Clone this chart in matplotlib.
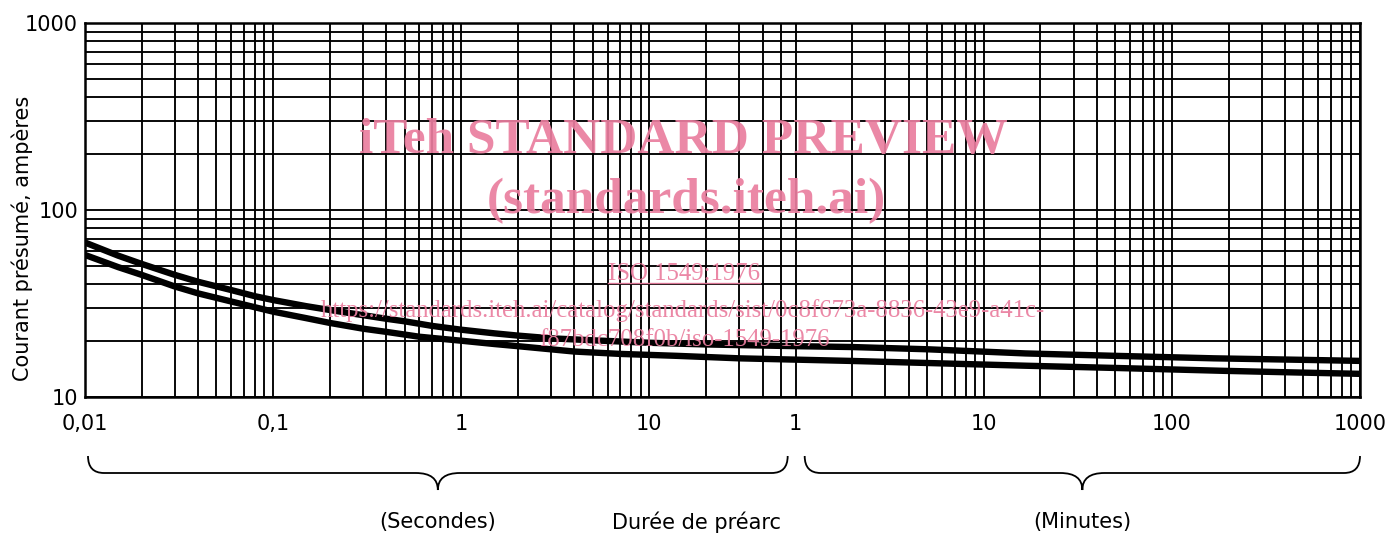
import numpy as np
import matplotlib
matplotlib.use("Agg")
import matplotlib.pyplot as plt
from matplotlib.path import Path
from matplotlib.patches import PathPatch
from matplotlib.transforms import IdentityTransform
from matplotlib.lines import Line2D

# ---------------- data (time in seconds) ----------------
time_haut = [0.01, 0.015, 0.02, 0.03, 0.04, 0.06, 0.08, 0.1, 0.15, 0.2, 0.3, 0.4, 0.5, 0.7,
             1, 1.5, 2, 3, 5, 10, 20, 60, 120, 300, 1000, 3000, 10000, 30000, 60000]
courant_haut = [67, 57, 51.5, 45, 41.3, 37.3, 34.6, 33, 30.6, 29.2, 27.4, 26.2, 25.4, 24.0,
                22.9, 21.9, 21.3, 20.6, 20.1, 19.5, 19.1, 18.7, 18.5, 18.0, 17.1, 16.6, 16.1, 15.8, 15.6]

time_bas = [0.01, 0.015, 0.02, 0.03, 0.04, 0.06, 0.08, 0.1, 0.15, 0.2, 0.3, 0.4, 0.6,
            1, 1.5, 2, 4, 7, 14, 30, 116, 300, 1000, 3000, 11400, 30000, 60000]
courant_bas = [57.5, 49.5, 45, 39, 35.8, 32.4, 30.2, 28.6, 26.4, 24.9, 23.2, 22.3, 21.0,
               20.0, 19.2, 18.7, 17.5, 17.0, 16.6, 16.1, 15.6, 15.2, 14.7, 14.3, 13.8, 13.5, 13.3]

xtick_pos = [0.01, 0.1, 1, 10, 60, 600, 6000, 60000]
xtick_labels = ["0,01", "0,1", "1", "10", "1", "10", "100", "1000"]
ytick_pos = [10, 100, 1000]
ytick_labels = ["10", "100", "1000"]

seconds_minor = [k * d for d in (0.01, 0.1, 1) for k in range(2, 10)] + [20, 30, 40, 50]
minutes_minor = [m * 60 for m in list(range(2, 10)) + list(range(20, 100, 10)) + list(range(200, 1000, 100))]
y_minor = [k * d for d in (10, 100) for k in range(2, 10)]

W, H = 1392, 536
fig = plt.figure(figsize=(W / 100, H / 100), dpi=100)
ax = fig.add_axes([85 / W, 1 - 397 / H, (1360 - 85) / W, (397 - 23) / H])
ax.set_xscale("log")
ax.set_yscale("log")
ax.set_xlim(0.01, 60000)
ax.set_ylim(10, 1000)

ax.set_xticks(xtick_pos)
ax.set_xticklabels(xtick_labels)
ax.set_xticks(seconds_minor + minutes_minor, minor=True)
ax.set_xticklabels([], minor=True)
ax.set_yticks(ytick_pos)
ax.set_yticklabels(ytick_labels)
ax.set_yticks(y_minor, minor=True)
ax.set_yticklabels([], minor=True)

ax.tick_params(which="both", length=0)
ax.tick_params(axis="x", pad=12, labelsize=15)
ax.tick_params(axis="y", pad=5, labelsize=15)
ax.grid(True, which="both", color="black", lw=1.35)
ax.set_axisbelow(True)
for s in ax.spines.values():
    s.set_linewidth(1.8)
    s.set_color("black")

ax.plot(time_haut, courant_haut, color="black", lw=4.6, solid_capstyle="butt",
        solid_joinstyle="round", zorder=3)
ax.plot(time_bas, courant_bas, color="black", lw=4.6, solid_capstyle="butt",
        solid_joinstyle="round", zorder=3)

fig.text(22 / W, 1 - 238 / H, "Courant présumé, ampères", rotation=90,
         ha="center", va="center", fontsize=15)

# ---------------- braces ----------------
def px(t):
    return ax.transData.transform((t, 10))[0]

bottom = ax.transAxes.transform((0, 0))[1]
ytop, ymid, ytip = bottom - 59, bottom - 76, bottom - 93

def brace(x0, x1, r=16, tw=22):
    xm = (x0 + x1) / 2
    verts = [(x0, ytop), (x0, ymid), (x0 + r, ymid),
             (xm - tw, ymid), (xm, ymid), (xm, ytip),
             (xm, ymid), (xm + tw, ymid),
             (x1 - r, ymid), (x1, ymid), (x1, ytop)]
    codes = [Path.MOVETO, Path.CURVE3, Path.CURVE3,
             Path.LINETO, Path.CURVE3, Path.CURVE3,
             Path.CURVE3, Path.CURVE3,
             Path.LINETO, Path.CURVE3, Path.CURVE3]
    fig.add_artist(PathPatch(Path(verts, codes), transform=IdentityTransform(),
                             fill=False, lw=1.3, edgecolor="black"))
    return xm

xm_s = brace(px(0.01) + 3, px(60) - 8)
xm_m = brace(px(60) + 9, px(60000))

ylab = 1 - 522 / H
fig.text(xm_s / W, ylab, "(Secondes)", ha="center", va="center", fontsize=15)
fig.text(697 / W, ylab, "Durée de préarc", ha="center", va="center", fontsize=15)
fig.text(xm_m / W, ylab, "(Minutes)", ha="center", va="center", fontsize=15)

# ---------------- watermark ----------------
pink = "#ea7e9f"
wm = dict(ha="center", va="center", color=pink, family="Liberation Serif", zorder=10, alpha=0.92)
fig.text(683 / W, 1 - 141 / H, "iTeh STANDARD PREVIEW", fontsize=37, weight="bold", **wm)
fig.text(686 / W, 1 - 201 / H, "(standards.iteh.ai)", fontsize=37, weight="bold", **wm)
iso = fig.text(684 / W, 1 - 274 / H, "ISO 1549:1976", fontsize=17.8, **wm)
fig.text(683 / W, 1 - 311 / H,
         "https://standards.iteh.ai/catalog/standards/sist/0c8f673a-8836-43e9-a41c-",
         fontsize=17.8, **wm)
fig.text(684 / W, 1 - 340 / H, "f87bdc708f0b/iso-1549-1976", fontsize=17.8, **wm)

renderer = fig.canvas.get_renderer()
bb = iso.get_window_extent(renderer)
fig.add_artist(Line2D([bb.x0, bb.x1], [bb.y0 + 2, bb.y0 + 2], transform=IdentityTransform(),
                      color=pink, lw=1.0, alpha=0.92, zorder=10))

fig.savefig("out.png", dpi=100, facecolor="white")
